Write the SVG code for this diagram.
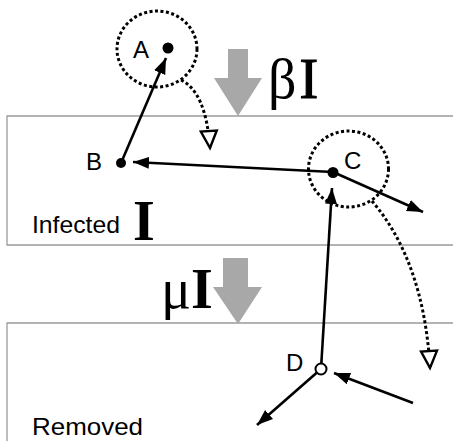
<svg xmlns="http://www.w3.org/2000/svg" width="453" height="441" viewBox="0 0 453 441">
<style>
.box{fill:none;stroke:#9a9a9a;stroke-width:1.3}
.lbl{font-family:"Liberation Sans",Arial,sans-serif;font-size:24px;fill:#000}
.math{font-family:"Liberation Serif","Times New Roman",serif;font-size:56px;fill:#000}
.dot{fill:none;stroke:#000;stroke-width:3;stroke-dasharray:3 2.5}
.edge{fill:none;stroke:#000;stroke-width:2.6}
.gray{fill:#a8a8a8}
</style>
<defs>
<marker id="ah" markerUnits="userSpaceOnUse" markerWidth="18" markerHeight="14" refX="16" refY="7" orient="auto">
<path d="M0,1 L16,7 L0,13 Z" fill="#000"/>
</marker>
<marker id="oh" markerUnits="userSpaceOnUse" markerWidth="22" markerHeight="20" refX="19" refY="10" orient="auto">
<path d="M2,2 L19,10 L2,18 Z" fill="#fff" stroke="#000" stroke-width="2.4"/>
</marker>
</defs>
<g id="compartments">
<path class="box" d="M460,116 H7 V245 H460"/>
<path class="box" d="M460,323 H7 V445"/>
</g>
<g id="rates">
<path class="gray" d="M228,49 H248 V78 H262 L238,116 L214,78 H228 Z"/>
<path class="gray" d="M223,258 H248 V287 H262 L238,324 L213,287 H223 Z"/>
<text class="math" x="268" y="98">β<tspan dx="3" stroke="#000" stroke-width="1.2">I</tspan></text>
<text class="math" x="161" y="308" font-size="58">μ<tspan font-weight="bold">I</tspan></text>
<text class="lbl" x="32" y="233" font-size="22" textLength="88" lengthAdjust="spacingAndGlyphs">Infected</text>
<text class="math" x="133" y="240" font-weight="bold">I</text>
<text class="lbl" x="32" y="435" textLength="111" lengthAdjust="spacingAndGlyphs">Removed</text>
</g>
<g id="connectors">
<path class="edge" d="M121,163 L166,58" marker-end="url(#ah)"/>
<path class="edge" d="M333,172 L133,162" marker-end="url(#ah)"/>
<path class="edge" d="M333,172 L423,212" marker-end="url(#ah)"/>
<path class="edge" d="M321,369 L332,188" marker-end="url(#ah)"/>
<path class="edge" d="M413,403 L334,373" marker-end="url(#ah)"/>
<path class="edge" d="M321,369 L257,425" marker-end="url(#ah)"/>
<path class="dot" d="M181,80 Q206,92 210,148" marker-end="url(#oh)"/>
<path class="dot" d="M372,201 Q424,262 430,368" marker-end="url(#oh)"/>
</g>
<g id="node-A">
<ellipse class="dot" cx="157" cy="49" rx="40" ry="38"/>
<circle cx="168" cy="48" r="5.5"/>
<text class="lbl" x="133" y="58">A</text>
</g>
<g id="node-B">
<circle cx="121" cy="163" r="5"/>
<text class="lbl" x="86" y="170" font-size="22">B</text>
</g>
<g id="node-C">
<ellipse class="dot" cx="348.5" cy="169" rx="40" ry="38"/>
<circle cx="333" cy="172.5" r="5.5"/>
<text class="lbl" x="344" y="169">C</text>
</g>
<g id="node-D">
<circle cx="321" cy="369" r="5.5" fill="#fff" stroke="#000" stroke-width="2"/>
<text class="lbl" x="286" y="371" font-size="22">D</text>
</g>
</svg>
